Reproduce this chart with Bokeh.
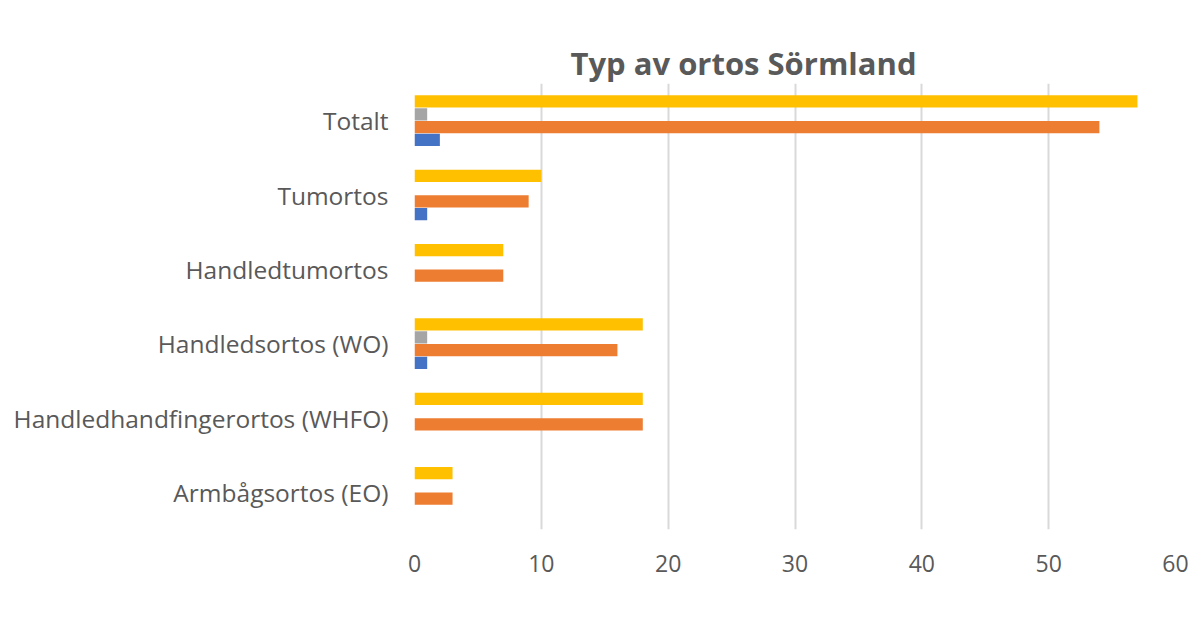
from bokeh.plotting import figure
from bokeh.models import (FactorRange, ColumnDataSource, Legend, LegendItem, Title, FixedTicker,
                          LinearAxis)
from bokeh.transform import dodge
from bokeh.embed import file_html
from bokeh.resources import INLINE

categories = ["Armbågsortos (EO)", "Handledhandfingerortos (WHFO)", "Handledsortos (WO)",
              "Handledtumortos", "Tumortos", "Totalt"]
at_oi = [3, 18, 18, 7, 10, 57]
ortopedingenjor = [0, 0, 1, 0, 0, 1]
arbetsterapeut = [3, 18, 16, 7, 9, 54]
noll = [0, 0, 1, 0, 1, 2]
series_names = ["AT+OI 1", "Ortopedingenjör 0", "Arbetsterapeut 1", "0"]
x_ticks = [0, 10, 20, 30, 40, 50, 60]

colors = ["#FFC000", "#A5A5A5", "#ED7D31", "#4472C4"]
offsets = [0.258, 0.086, -0.086, -0.258]
TXT = "#595959"
FONT = "Open Sans"

src = ColumnDataSource(dict(cat=categories, a=at_oi, b=ortopedingenjor, c=arbetsterapeut, d=noll))

p = figure(frame_width=761, frame_height=446, y_range=FactorRange(factors=categories), x_range=(0, 60),
           output_backend="svg", toolbar_location=None, title=None)
p.min_border_left = 414
p.min_border_right = 16
p.min_border_top = 83
p.min_border_bottom = 113
p.outline_line_color = None
p.background_fill_color = "white"

items = []
for key, col, off, name in zip(["a", "b", "c", "d"], colors, offsets, series_names):
    r = p.hbar(y=dodge("cat", off, range=p.y_range), right=key, left=0, height=0.165,
               source=src, fill_color=col, line_color=None)
    items.append(LegendItem(label=name, renderers=[r]))

# main x axis settings (before the spacer axis is added)
xax = p.below[0]
xax.ticker = FixedTicker(ticks=x_ticks)
xax.axis_line_color = None
xax.major_tick_line_color = None
xax.minor_tick_line_color = None
xax.major_label_text_font = FONT
xax.major_label_text_font_size = "23px"
xax.major_label_text_color = TXT
xax.major_label_standoff = 19
p.xgrid.ticker = xax.ticker

# invisible (white) spacer between the frame and the title
spacer = LinearAxis(ticker=FixedTicker(ticks=[], minor_ticks=[]), axis_line_color=None,
                    major_tick_line_color="white", minor_tick_line_color=None,
                    major_tick_out=37, major_tick_in=0, minor_tick_out=0,
                    major_label_standoff=0)
p.add_layout(spacer, "above")

t = Title(text="Typ av ortos Sörmland", text_font=FONT, text_font_size="31px",
          text_font_style="bold", text_color=TXT, align="left", offset=156, standoff=0)
p.add_layout(t, "above")

p.yaxis.axis_line_color = None
p.yaxis.major_tick_line_color = None
p.yaxis.minor_tick_line_color = None
p.yaxis.major_label_text_font = FONT
p.yaxis.major_label_text_font_size = "24.5px"
p.yaxis.major_label_text_color = TXT
p.yaxis.major_label_standoff = 20

p.xgrid.grid_line_color = "#D9D9D9"
p.xgrid.grid_line_width = 2
p.ygrid.grid_line_color = None

legend = Legend(items=items, orientation="horizontal", location=(-52, 0),
                label_text_font=FONT, label_text_font_size="21px", label_text_font_style="bold",
                label_text_color=TXT, glyph_width=12, glyph_height=12, label_standoff=7,
                spacing=50, border_line_color=None, background_fill_alpha=0, padding=0, margin=0)
p.add_layout(legend, "below")

open("out.html", "w").write(file_html(p, INLINE))
